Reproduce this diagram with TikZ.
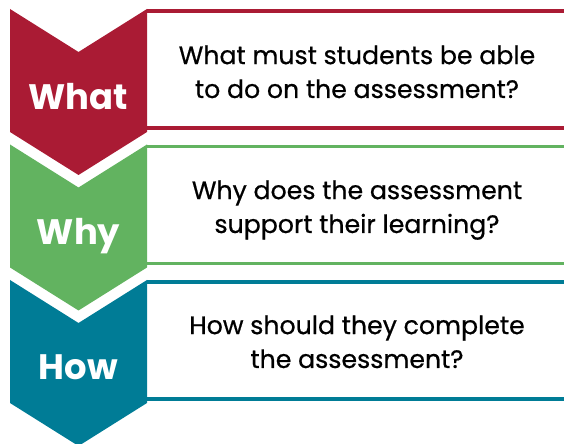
\documentclass[tikz,border=0pt]{standalone}
\usepackage{fontspec}
\setmainfont{Poppins}
\newfontfamily\qfont{Poppins}[FakeBold=0.6]
\usetikzlibrary{positioning}

\definecolor{whatred}{HTML}{AA1B34}
\definecolor{whygreen}{HTML}{62B360}
\definecolor{howblue}{HTML}{007C96}

\begin{document}
\begin{tikzpicture}[
        x=1bp, y=1bp,
        tag/.style={anchor=base, text=white, font=\bfseries\fontsize{35.5}{40}\selectfont, inner sep=0pt},
        question/.style={anchor=base, align=center, font=\qfont\fontsize{25.3}{34}\selectfont, inner sep=0pt},
        rule/.style={line width=3.5bp}]
        \useasboundingbox (0,0) rectangle (564,444);

        % chevrons
        \fill[whatred] (10,435) -- (78.5,392) -- (147,435) -- (147,312) -- (78.5,269) -- (10,312) -- cycle;
        \fill[whygreen] (10,299.5) -- (78.5,256.5) -- (147,299.5) -- (147,176.5) -- (78.5,133.5) -- (10,176.5) -- cycle;
        \fill[howblue] (10,164) -- (78.5,121) -- (147,164) -- (147,41) -- (78.5,-2) -- (10,41) -- cycle;

        % box lines
        \coordinate (WhatTL) at (147,433);
        \coordinate (WhatTR) at (566,433);
        \coordinate (WhatBL) at (147,316);
        \coordinate (WhatBR) at (566,316);
        \coordinate (WhyTL) at (147,297.5);
        \coordinate (WhyTR) at (566,297.5);
        \coordinate (WhyBL) at (147,180.5);
        \coordinate (WhyBR) at (566,180.5);
        \coordinate (HowTL) at (147,162);
        \coordinate (HowTR) at (566,162);
        \coordinate (HowBL) at (147,45);
        \coordinate (HowBR) at (566,45);

        \draw[rule, whatred] (WhatTL) -- (WhatTR);
        \draw[rule, whatred] (WhatBL) -- (WhatBR);
        \draw[rule, whygreen] (WhyTL) -- (WhyTR);
        \draw[rule, whygreen] (WhyBL) -- (WhyBR);
        \draw[rule, howblue] (HowTL) -- (HowTR);
        \draw[rule, howblue] (HowBL) -- (HowBR);

        % labels
        \node[tag] (What) at (78.5,334) {What};
        \node[tag] (Why) at (78.5,199) {Why};
        \node[tag] (How) at (78.5,64) {How};

        % questions (base is the last line)
        \node[question] (WhatQ) at (357,346) {What must students be able\\to do on the assessment?};
        \node[question] (WhyQ) at (357,211) {Why does the assessment\\support their learning?};
        \node[question] (HowQ) at (357,76) {How should they complete\\the assessment?};

    \end{tikzpicture}
\end{document}
